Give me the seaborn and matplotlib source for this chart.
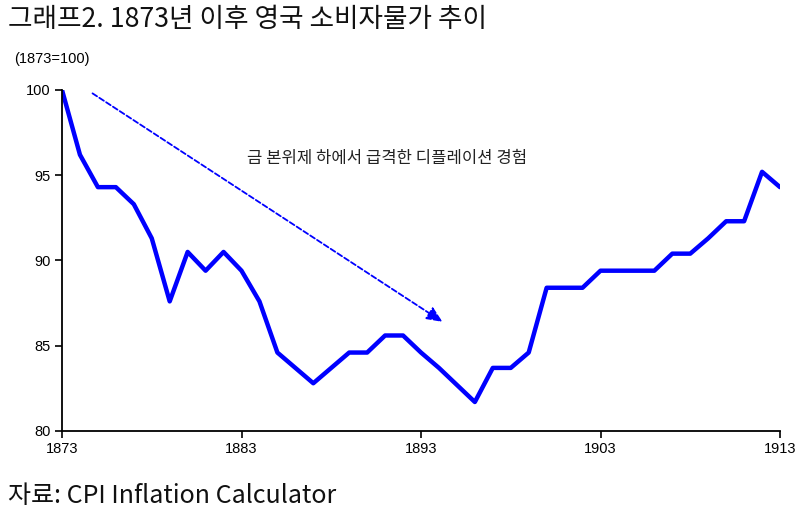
import matplotlib
matplotlib.use("Agg")
import matplotlib.pyplot as plt
from matplotlib import font_manager
import seaborn as sns
import pandas as pd

years = list(range(1873, 1914))
cpi = [100.0, 96.2, 94.3, 94.3, 93.3, 91.3, 87.6, 90.5, 89.4, 90.5,
       89.4, 87.6, 84.6, 83.7, 82.8, 83.7, 84.6, 84.6, 85.6, 85.6,
       84.6, 83.7, 82.7, 81.7, 83.7, 83.7, 84.6, 88.4, 88.4, 88.4,
       89.4, 89.4, 89.4, 89.4, 90.4, 90.4, 91.3, 92.3, 92.3, 95.2,
       94.3]
xticks = [1873, 1883, 1893, 1903, 1913]
yticks = [80, 85, 90, 95, 100]
title = "그래프2. 1873년 이후 영국 소비자물가 추이"
unit_label = "(1873=100)"
note = "금 본위제 하에서 급격한 디플레이션 경험"
source = "자료: CPI Inflation Calculator"

sns.set_theme(style="white")
names = {f.name for f in font_manager.fontManager.ttflist}
narrow = "Liberation Sans Narrow" if "Liberation Sans Narrow" in names else "Liberation Sans"
kfont = ["Noto Sans CJK KR", "DejaVu Sans"]
plt.rcParams["font.family"] = kfont

df = pd.DataFrame({"year": years, "cpi": cpi})

fig = plt.figure(figsize=(8, 5.14), dpi=100)
ax = fig.add_axes([0.0775, 0.1615, 0.8975, 0.6635])
sns.lineplot(data=df, x="year", y="cpi", ax=ax, color="#0000FF", linewidth=3.2)

ax.set_xlim(1873, 1913)
ax.set_ylim(80, 100)
ax.set_xticks(xticks)
ax.set_yticks(yticks)
ax.set_xticklabels([str(v) for v in xticks], fontfamily=narrow, fontsize=10.5)
ax.set_yticklabels([str(v) for v in yticks], fontfamily=narrow, fontsize=10.5)
ax.set_xlabel("")
ax.set_ylabel("")
for s in ["top", "right"]:
    ax.spines[s].set_visible(False)
for s in ["left", "bottom"]:
    ax.spines[s].set_color("black")
    ax.spines[s].set_linewidth(1.3)
ax.tick_params(axis="both", direction="out", length=5, width=1.2, color="black",
               left=True, bottom=True, labelcolor="black", pad=3)

ax.annotate("", xy=(1894.2, 86.4), xytext=(1874.7, 99.8),
            arrowprops=dict(arrowstyle="-|>,head_length=0.8,head_width=0.35",
                            color="#0000FF", lw=1.3, linestyle=(0, (3, 1.5)),
                            shrinkA=0, shrinkB=0))
ax.text(1891.1, 96.0, note, ha="center", va="center", fontsize=12,
        color="#222222", family=kfont)

fig.text(0.01, 0.962, title, ha="left", va="center", fontsize=19.2,
         color="#111111", family=kfont)
fig.text(0.018, 0.885, unit_label, ha="left", va="center", fontsize=10.5,
         color="black", family=[narrow, "DejaVu Sans"])
fig.text(0.01, 0.035, source, ha="left", va="center", fontsize=18,
         color="#111111", family=kfont)

fig.savefig("out.png", dpi=100)
